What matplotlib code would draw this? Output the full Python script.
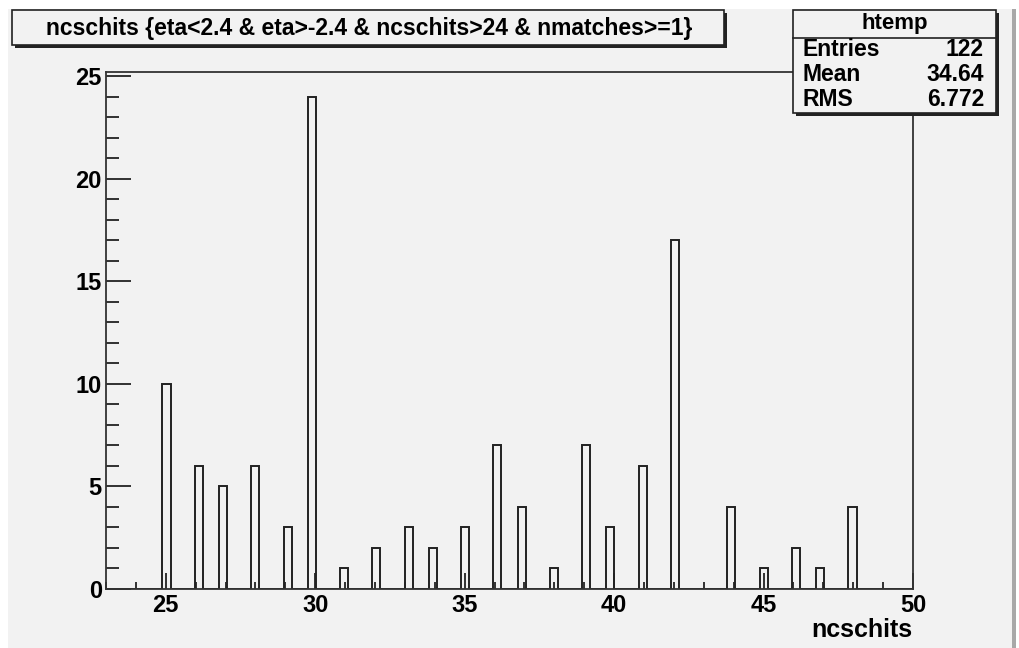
import numpy as np
import matplotlib
matplotlib.use("Agg")
import matplotlib.pyplot as plt
from matplotlib.patches import Rectangle
from matplotlib.ticker import MultipleLocator

# ncschits values and how often each occurs
ncschits = [25, 26, 27, 28, 29, 30, 31, 32, 33, 34, 35, 36, 37, 38, 39, 40,
            41, 42, 44, 45, 46, 47, 48]
counts = [10, 6, 5, 6, 3, 24, 1, 2, 3, 2, 3, 7, 4, 1, 7, 3,
          6, 17, 4, 1, 2, 1, 4]

title = "ncschits {eta<2.4 & eta>-2.4 & ncschits>24 & nmatches>=1}"
stat_names = ["Entries", "Mean", "RMS"]
stat_values = ["122", "34.64", "6.772"]

W, H = 1020, 648
bg = "#f2f2f2"
ink = "#222222"
plt.rcParams['font.family'] = ['Liberation Sans', 'DejaVu Sans']
plt.rcParams['font.weight'] = 'bold'

fig = plt.figure(figsize=(W / 100, H / 100), dpi=100, facecolor="white")

def px(x0, y0, x1, y1):
    # pixel box -> figure fraction (x, y, w, h)
    return x0 / W, 1 - y1 / H, (x1 - x0) / W, (y1 - y0) / H

# canvas pad
x, y, w, h = px(8, 9, 1012, 648)
fig.patches.append(Rectangle((x, y), w, h, transform=fig.transFigure, fc=bg, ec="none", zorder=-10))
x, y, w, h = px(1012, 9, 1016, 648)
fig.patches.append(Rectangle((x, y), w, h, transform=fig.transFigure, fc="#a8a8a8", ec="none", zorder=-10))

ax = fig.add_axes([106 / W, 1 - 588.5 / H, (913 - 106) / W, (588.5 - 72) / H])
ax.set_facecolor(bg)

bins = np.linspace(23, 50, 101)
ax.hist(ncschits, bins=bins, weights=counts, histtype="step", color=ink, lw=1.4)

ax.set_xlim(23, 50)
ax.set_ylim(0, 25.2)
ax.xaxis.set_major_locator(MultipleLocator(5))
ax.xaxis.set_minor_locator(MultipleLocator(1))
ax.yaxis.set_major_locator(MultipleLocator(5))
ax.yaxis.set_minor_locator(MultipleLocator(1))
ax.tick_params(axis="x", which="major", direction="in", length=11.5, width=1.3, colors=ink, labelsize=17, pad=4)
ax.tick_params(axis="x", which="minor", direction="in", length=5, width=1.3, colors=ink)
ax.tick_params(axis="y", which="major", direction="in", length=18, width=1.3, colors=ink, labelsize=17, pad=3)
ax.tick_params(axis="y", which="minor", direction="in", length=9, width=1.3, colors=ink)
for lab in ax.get_xticklabels() + ax.get_yticklabels():
    lab.set_fontweight("bold")
    lab.set_color("black")
for s in ax.spines.values():
    s.set_color("#333333")
    s.set_linewidth(1.3)

fig.text(912 / W, 1 - 637 / H, "ncschits", ha="right", va="baseline", fontsize=18, fontweight="bold")

# title box with shadow
x, y, w, h = px(15, 13, 727, 48)
fig.patches.append(Rectangle((x, y), w, h, transform=fig.transFigure, fc="#222222", ec="none", zorder=5))
x, y, w, h = px(12, 10, 724, 45)
fig.patches.append(Rectangle((x, y), w, h, transform=fig.transFigure, fc=bg, ec="#222222", lw=1.2, zorder=6))
fig.text(369 / W, 1 - 28 / H, title, ha="center", va="center", fontsize=16.5, fontweight="bold", zorder=7)

# stats box with shadow
x, y, w, h = px(796, 13, 999, 116)
fig.patches.append(Rectangle((x, y), w, h, transform=fig.transFigure, fc="#222222", ec="none", zorder=5))
x, y, w, h = px(793, 10, 996, 113)
fig.patches.append(Rectangle((x, y), w, h, transform=fig.transFigure, fc=bg, ec="#222222", lw=1.2, zorder=6))
fig.lines.append(plt.Line2D([793 / W, 996 / W], [1 - 37.5 / H, 1 - 37.5 / H], transform=fig.transFigure,
                            color="#222222", lw=1.2, zorder=7))
fig.text(895 / W, 1 - 23 / H, "htemp", ha="center", va="center", fontsize=16, fontweight="bold", zorder=7)
for i, (nm, val) in enumerate(zip(stat_names, stat_values)):
    yy = 1 - (49 + 25.5 * i) / H
    fig.text(803 / W, yy, nm, ha="left", va="center", fontsize=16.5, fontweight="bold", zorder=7)
    fig.text(984 / W, yy, val, ha="right", va="center", fontsize=16.5, fontweight="bold", zorder=7)

fig.savefig("out.png", dpi=100, facecolor=fig.get_facecolor())
